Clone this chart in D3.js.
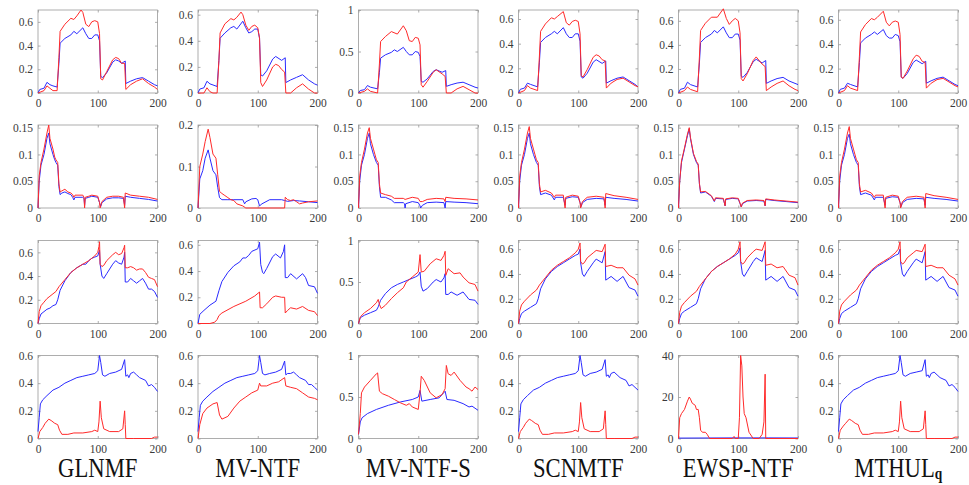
<!DOCTYPE html>
<html>
<head>
<meta charset="utf-8">
<script src="https://cdn.jsdelivr.net/npm/d3@7"></script>
<style>
  body { margin: 0; background: #fff; }
  text { font-family: "Liberation Serif", "Times New Roman", serif; }
</style>
</head>
<body>
<svg id="chart" width="969" height="485"></svg>
<script>
// method names (column titles)
const methods = ["GLNMF", "MV-NTF", "MV-NTF-S", "SCNMTF", "EWSP-NTF", "MTHUL"];
const xTicks = [0, 100, 200];

// y axis upper limit per row / column
const yMax = [
  [0.7, 0.636, 1, 0.673, 0.69, 0.68],
  [0.155, 0.2, 0.155, 0.155, 0.155, 0.155],
  [0.7, 0.633, 1, 0.67, 0.67, 0.67],
  [0.6, 0.6, 1, 0.6, 40, 0.6]
];
const yTicksRow = [
  [[0, 0.2, 0.4, 0.6], [0, 0.2, 0.4, 0.6], [0, 0.5, 1], [0, 0.2, 0.4, 0.6], [0, 0.2, 0.4, 0.6], [0, 0.2, 0.4, 0.6]],
  [[0, 0.05, 0.1, 0.15], [0, 0.1, 0.2], [0, 0.05, 0.1, 0.15], [0, 0.05, 0.1, 0.15], [0, 0.05, 0.1, 0.15], [0, 0.05, 0.1, 0.15]],
  [[0, 0.2, 0.4, 0.6], [0, 0.2, 0.4, 0.6], [0, 0.5, 1], [0, 0.2, 0.4, 0.6], [0, 0.2, 0.4, 0.6], [0, 0.2, 0.4, 0.6]],
  [[0, 0.2, 0.4, 0.6], [0, 0.2, 0.4, 0.6], [0, 0.5, 1], [0, 0.2, 0.4, 0.6], [0, 20, 40], [0, 0.2, 0.4, 0.6]]
];

// ---- row 1 ----
const glnmfB1 = [[0,0],[3,0.03],[10,0.04],[15,0.09],[20,0.07],[25,0.06],[32,0.05],[35,0.25],[37,0.42],[45,0.46],[55,0.49],[60,0.52],[65,0.5],[75,0.55],[80,0.5],[85,0.46],[90,0.46],[95,0.49],[100,0.49],[103,0.44],[105,0.14],[108,0.13],[115,0.17],[125,0.26],[130,0.28],[135,0.27],[140,0.25],[146,0.27],[147,0.08],[155,0.1],[165,0.12],[175,0.13],[185,0.1],[195,0.07],[200,0.06]];
const glnmfR1 = [[0,0],[5,0.01],[10,0.02],[15,0.06],[20,0.04],[25,0.02],[32,0.02],[35,0.3],[37,0.52],[45,0.58],[55,0.63],[60,0.62],[65,0.65],[72,0.7],[75,0.68],[80,0.58],[85,0.56],[90,0.6],[95,0.61],[100,0.6],[103,0.5],[105,0.12],[108,0.11],[115,0.18],[125,0.28],[130,0.3],[135,0.29],[140,0.25],[145,0.25],[147,0.03],[155,0.07],[165,0.1],[175,0.12],[185,0.08],[195,0.05],[200,0.03]];
const mvntfB1 = [[0,0],[3,0.03],[10,0.04],[15,0.09],[20,0.07],[32,0.05],[35,0.25],[37,0.42],[45,0.46],[55,0.5],[60,0.51],[65,0.49],[75,0.55],[80,0.5],[85,0.46],[90,0.47],[95,0.49],[100,0.49],[103,0.42],[105,0.14],[108,0.13],[115,0.17],[125,0.26],[130,0.28],[140,0.25],[146,0.27],[147,0.08],[155,0.1],[165,0.12],[175,0.14],[185,0.1],[195,0.07],[200,0.06]];
const mvntfR1 = [[0,0],[10,0],[15,0.04],[20,0.01],[25,0],[32,0],[35,0.25],[37,0.46],[45,0.53],[55,0.57],[60,0.56],[65,0.58],[72,0.62],[75,0.6],[80,0.52],[85,0.48],[90,0.51],[95,0.52],[100,0.5],[103,0.42],[105,0.08],[108,0.05],[115,0.1],[125,0.2],[130,0.22],[135,0.21],[140,0.18],[145,0.16],[147,0],[155,0],[165,0.04],[175,0.07],[185,0.03],[195,0],[200,0]];
const mvntfsB1 = [[0,0],[3,0.03],[10,0.04],[15,0.09],[20,0.07],[32,0.05],[35,0.25],[37,0.42],[45,0.46],[55,0.49],[60,0.52],[65,0.5],[75,0.55],[80,0.5],[85,0.46],[90,0.46],[95,0.5],[100,0.49],[103,0.44],[105,0.14],[108,0.13],[115,0.17],[125,0.26],[130,0.28],[140,0.25],[146,0.27],[147,0.08],[155,0.1],[165,0.12],[175,0.13],[185,0.1],[195,0.07],[200,0.06]];
const mvntfsR1 = [[0,0],[10,0.02],[15,0.05],[20,0.02],[32,0],[35,0.35],[37,0.62],[45,0.68],[55,0.74],[65,0.71],[75,0.81],[80,0.75],[85,0.63],[90,0.62],[95,0.67],[100,0.66],[103,0.58],[105,0.1],[108,0.07],[115,0.14],[125,0.25],[130,0.28],[140,0.23],[145,0.2],[147,0],[155,0],[165,0.05],[175,0.08],[185,0.04],[195,0],[200,0]];
const scnmtfB1 = [[0,0],[3,0.03],[10,0.04],[15,0.08],[20,0.07],[32,0.05],[35,0.25],[37,0.41],[45,0.45],[55,0.48],[60,0.5],[65,0.48],[75,0.53],[80,0.48],[85,0.45],[90,0.45],[95,0.48],[100,0.48],[103,0.42],[105,0.13],[108,0.12],[115,0.16],[125,0.25],[130,0.27],[140,0.24],[146,0.26],[147,0.08],[155,0.1],[165,0.12],[175,0.13],[185,0.1],[195,0.07],[200,0.05]];
const scnmtfR1 = [[0,0],[10,0.02],[15,0.06],[20,0.04],[32,0.02],[35,0.3],[37,0.5],[45,0.56],[55,0.61],[60,0.6],[65,0.62],[75,0.66],[80,0.57],[85,0.55],[90,0.58],[95,0.59],[100,0.58],[103,0.48],[105,0.14],[108,0.13],[115,0.19],[125,0.29],[130,0.31],[135,0.3],[140,0.27],[145,0.26],[147,0.04],[155,0.08],[165,0.11],[175,0.12],[185,0.09],[195,0.06],[200,0.05]];
const ewspB1 = [[0,0],[3,0.03],[10,0.04],[15,0.09],[20,0.07],[32,0.05],[35,0.25],[37,0.42],[45,0.46],[55,0.49],[60,0.52],[65,0.5],[75,0.55],[80,0.5],[85,0.46],[90,0.46],[95,0.49],[100,0.49],[103,0.44],[105,0.14],[108,0.13],[115,0.17],[125,0.26],[130,0.28],[140,0.25],[146,0.27],[147,0.08],[155,0.1],[165,0.12],[175,0.13],[185,0.1],[195,0.08],[200,0.07]];
const ewspR1 = [[0,0],[10,0.02],[15,0.05],[20,0.03],[32,0.01],[35,0.3],[37,0.52],[45,0.58],[55,0.63],[65,0.63],[75,0.7],[80,0.62],[85,0.57],[90,0.6],[95,0.62],[100,0.6],[103,0.5],[105,0.12],[108,0.1],[115,0.16],[125,0.27],[130,0.3],[140,0.24],[145,0.22],[147,0.02],[155,0.05],[165,0.08],[175,0.1],[185,0.06],[195,0.03],[200,0.02]];
const mthulB1 = [[0,0],[3,0.03],[10,0.04],[15,0.08],[20,0.07],[32,0.05],[35,0.25],[37,0.41],[45,0.45],[55,0.48],[60,0.5],[65,0.48],[75,0.52],[80,0.47],[85,0.45],[90,0.45],[95,0.48],[100,0.47],[103,0.42],[105,0.13],[108,0.12],[115,0.16],[125,0.25],[130,0.27],[140,0.24],[146,0.26],[147,0.08],[155,0.1],[165,0.12],[175,0.13],[185,0.1],[195,0.07],[200,0.06]];
const mthulR1 = [[0,0],[10,0.02],[15,0.06],[20,0.04],[32,0.02],[35,0.3],[37,0.5],[45,0.56],[55,0.61],[60,0.6],[65,0.62],[75,0.67],[80,0.58],[85,0.55],[90,0.58],[95,0.59],[100,0.58],[103,0.48],[105,0.13],[108,0.12],[115,0.18],[125,0.28],[130,0.31],[135,0.3],[140,0.26],[145,0.25],[147,0.04],[155,0.08],[165,0.11],[175,0.12],[185,0.09],[195,0.06],[200,0.05]];

// ---- row 2 ----
const glnmfB2 = [[0,0],[2,0.05],[5,0.08],[10,0.1],[15,0.13],[18,0.14],[20,0.12],[25,0.1],[28,0.09],[30,0.085],[33,0.08],[35,0.04],[37,0.025],[40,0.028],[45,0.03],[50,0.027],[55,0.025],[58,0.02],[60,0.015],[62,0.02],[75,0.02],[77,0.018],[78,0.005],[79,0.018],[85,0.02],[90,0.022],[100,0.02],[103,0.01],[105,0.003],[107,0.01],[115,0.017],[125,0.019],[135,0.019],[143,0.018],[145,0.005],[146,0.022],[155,0.02],[170,0.018],[185,0.016],[200,0.013]];
const glnmfR2 = [[0,0],[2,0.06],[5,0.085],[10,0.11],[15,0.14],[18,0.155],[20,0.13],[25,0.11],[28,0.095],[30,0.09],[33,0.085],[35,0.045],[37,0.03],[40,0.032],[45,0.035],[50,0.03],[55,0.028],[58,0.025],[60,0.02],[62,0.024],[75,0.024],[77,0.02],[78,0],[79,0.02],[85,0.022],[90,0.024],[100,0.022],[103,0.01],[104,0],[107,0.012],[115,0.02],[125,0.022],[135,0.022],[143,0.02],[145,0],[146,0.028],[155,0.024],[170,0.022],[185,0.02],[200,0.016]];
const mvntfB2 = [[0,0],[3,0.07],[8,0.09],[12,0.12],[17,0.14],[20,0.12],[25,0.09],[30,0.08],[33,0.05],[36,0.025],[40,0.02],[50,0.02],[60,0.02],[75,0.02],[78,0.01],[80,0.015],[90,0.022],[97,0.023],[100,0.02],[103,0.005],[107,0.01],[120,0.02],[140,0.02],[145,0.018],[150,0.016],[160,0.018],[170,0.017],[185,0.015],[200,0.013]];
const mvntfR2 = [[0,0],[3,0.1],[8,0.13],[12,0.16],[17,0.19],[20,0.17],[25,0.13],[30,0.12],[33,0.08],[36,0.04],[40,0.035],[45,0.03],[50,0.025],[55,0.02],[60,0.018],[65,0.01],[75,0.005],[80,0],[145,0],[146,0.026],[150,0.02],[155,0.018],[160,0.02],[165,0.015],[170,0.01],[175,0.012],[185,0.015],[200,0.017]];
const mvntfsB2 = [[0,0],[2,0.05],[5,0.08],[10,0.1],[15,0.13],[18,0.14],[20,0.12],[25,0.1],[30,0.085],[33,0.08],[35,0.04],[37,0.02],[45,0.02],[55,0.015],[60,0.01],[75,0.01],[77,0.008],[78,0],[79,0.008],[90,0.012],[100,0.01],[103,0.004],[104,0],[107,0.005],[115,0.01],[130,0.011],[143,0.01],[145,0],[146,0.012],[160,0.011],[180,0.01],[200,0.008]];
const mvntfsR2 = [[0,0],[2,0.06],[5,0.085],[10,0.11],[15,0.14],[18,0.15],[20,0.13],[25,0.11],[30,0.09],[33,0.085],[35,0.045],[37,0.028],[45,0.025],[55,0.022],[60,0.018],[75,0.018],[78,0.016],[90,0.02],[100,0.018],[103,0.012],[107,0.012],[115,0.016],[130,0.018],[143,0.017],[145,0.012],[146,0.02],[160,0.018],[180,0.017],[200,0.015]];
const scnmtfB2 = [[0,0],[2,0.05],[5,0.08],[10,0.1],[15,0.13],[18,0.14],[20,0.12],[25,0.1],[30,0.085],[33,0.08],[35,0.04],[37,0.025],[45,0.028],[55,0.024],[60,0.015],[62,0.02],[75,0.02],[78,0.005],[79,0.018],[90,0.021],[100,0.02],[103,0.01],[105,0.003],[107,0.01],[115,0.016],[130,0.018],[143,0.017],[145,0.005],[146,0.02],[160,0.018],[180,0.016],[200,0.013]];
const scnmtfR2 = [[0,0],[2,0.06],[5,0.085],[10,0.11],[15,0.14],[18,0.152],[20,0.13],[25,0.11],[30,0.09],[33,0.085],[35,0.045],[37,0.03],[45,0.033],[55,0.028],[60,0.02],[62,0.024],[75,0.024],[78,0],[79,0.02],[90,0.024],[100,0.022],[103,0.01],[104,0],[107,0.012],[115,0.02],[130,0.022],[143,0.02],[145,0],[146,0.027],[160,0.023],[180,0.02],[200,0.016]];
const ewspB2 = [[0,0],[2,0.05],[5,0.085],[10,0.11],[15,0.135],[18,0.148],[20,0.13],[25,0.1],[30,0.085],[33,0.08],[35,0.045],[37,0.028],[45,0.03],[55,0.022],[60,0.012],[62,0.018],[75,0.017],[78,0.004],[79,0.016],[90,0.018],[100,0.017],[103,0.008],[105,0.002],[107,0.008],[115,0.013],[130,0.014],[143,0.013],[145,0.004],[146,0.016],[160,0.014],[180,0.012],[200,0.01]];
const ewspR2 = [[0,0],[2,0.05],[5,0.088],[10,0.112],[15,0.138],[18,0.15],[20,0.132],[25,0.102],[30,0.087],[33,0.082],[35,0.046],[37,0.03],[45,0.031],[55,0.023],[60,0.013],[62,0.019],[75,0.018],[78,0.004],[79,0.017],[90,0.019],[100,0.018],[103,0.009],[105,0.002],[107,0.009],[115,0.014],[130,0.015],[143,0.014],[145,0.004],[146,0.017],[160,0.015],[180,0.013],[200,0.011]];
const mthulB2 = [[0,0],[2,0.05],[5,0.08],[10,0.1],[15,0.13],[18,0.138],[20,0.12],[25,0.1],[30,0.085],[33,0.08],[35,0.04],[37,0.025],[45,0.028],[55,0.024],[60,0.015],[62,0.02],[75,0.02],[78,0.005],[79,0.018],[90,0.021],[100,0.02],[103,0.01],[105,0.003],[107,0.01],[115,0.016],[130,0.018],[143,0.017],[145,0.005],[146,0.02],[160,0.018],[180,0.016],[200,0.013]];
const mthulR2 = [[0,0],[2,0.06],[5,0.085],[10,0.11],[15,0.14],[18,0.152],[20,0.13],[25,0.11],[30,0.09],[33,0.085],[35,0.045],[37,0.03],[45,0.033],[55,0.028],[60,0.02],[62,0.024],[75,0.024],[78,0],[79,0.02],[90,0.024],[100,0.022],[103,0.01],[104,0],[107,0.012],[115,0.02],[130,0.022],[143,0.02],[145,0],[146,0.027],[160,0.023],[180,0.02],[200,0.016]];

// ---- row 3 ----
const glnmfB3 = [[0,0],[2,0.04],[5,0.08],[10,0.1],[15,0.12],[20,0.13],[25,0.15],[30,0.16],[33,0.2],[37,0.28],[45,0.36],[55,0.43],[65,0.47],[75,0.5],[80,0.5],[85,0.53],[90,0.55],[95,0.56],[100,0.57],[103,0.62],[104,0.5],[107,0.4],[110,0.38],[115,0.42],[125,0.5],[130,0.53],[135,0.51],[140,0.5],[144,0.56],[145,0.6],[146,0.35],[150,0.35],[155,0.38],[160,0.36],[165,0.34],[170,0.36],[175,0.38],[180,0.34],[185,0.29],[190,0.29],[195,0.27],[200,0.22]];
const glnmfR3 = [[0,0],[2,0.1],[5,0.15],[10,0.18],[15,0.21],[20,0.23],[25,0.25],[30,0.27],[35,0.31],[45,0.37],[55,0.43],[65,0.47],[75,0.5],[85,0.53],[90,0.55],[95,0.57],[100,0.6],[102,0.65],[103,0.69],[104,0.5],[107,0.48],[110,0.49],[115,0.53],[125,0.58],[130,0.6],[135,0.58],[140,0.59],[144,0.64],[145,0.66],[146,0.47],[150,0.47],[155,0.48],[160,0.47],[165,0.45],[170,0.46],[175,0.46],[180,0.43],[185,0.39],[190,0.38],[195,0.37],[200,0.31]];
const mvntfB3 = [[0,0],[3,0.07],[10,0.1],[20,0.14],[30,0.17],[35,0.25],[40,0.32],[50,0.39],[60,0.44],[70,0.47],[75,0.5],[80,0.5],[85,0.52],[90,0.55],[100,0.57],[103,0.62],[105,0.45],[108,0.39],[110,0.38],[115,0.42],[125,0.51],[130,0.53],[138,0.5],[143,0.55],[145,0.6],[146,0.35],[150,0.35],[155,0.38],[165,0.34],[175,0.38],[180,0.35],[185,0.29],[195,0.28],[200,0.23]];
const mvntfR3 = [[0,0],[20,0],[28,0.01],[32,0.03],[35,0.06],[40,0.08],[60,0.13],[80,0.17],[95,0.21],[103,0.24],[104,0.12],[108,0.12],[115,0.15],[125,0.2],[130,0.21],[140,0.2],[145,0.2],[146,0.08],[150,0.1],[155,0.12],[165,0.11],[175,0.13],[185,0.1],[195,0.09],[200,0.06]];
const mvntfsB3 = [[0,0],[3,0.07],[10,0.1],[20,0.13],[30,0.16],[33,0.2],[37,0.28],[45,0.36],[55,0.43],[65,0.47],[75,0.5],[85,0.53],[95,0.56],[100,0.58],[103,0.62],[105,0.45],[108,0.39],[115,0.42],[125,0.5],[130,0.53],[138,0.5],[143,0.55],[145,0.6],[146,0.35],[150,0.35],[155,0.38],[165,0.34],[175,0.38],[185,0.29],[195,0.28],[200,0.23]];
const mvntfsR3 = [[0,0],[3,0.08],[10,0.13],[20,0.18],[30,0.25],[33,0.29],[35,0.23],[38,0.18],[45,0.22],[55,0.3],[65,0.37],[75,0.43],[80,0.5],[90,0.56],[100,0.62],[103,0.83],[105,0.62],[110,0.63],[120,0.72],[130,0.78],[138,0.76],[143,0.82],[145,0.87],[146,0.58],[150,0.66],[160,0.6],[170,0.61],[175,0.56],[185,0.49],[195,0.47],[200,0.39]];
const scnmtfB3 = [[0,0],[2,0.04],[5,0.08],[10,0.1],[20,0.13],[30,0.16],[33,0.2],[37,0.28],[45,0.36],[55,0.42],[65,0.46],[75,0.49],[85,0.52],[95,0.55],[100,0.56],[103,0.6],[104,0.49],[107,0.4],[110,0.38],[115,0.42],[125,0.49],[130,0.52],[140,0.49],[145,0.58],[146,0.35],[155,0.38],[165,0.34],[175,0.38],[185,0.29],[195,0.27],[200,0.22]];
const scnmtfR3 = [[0,0],[2,0.1],[5,0.15],[10,0.18],[20,0.23],[30,0.27],[35,0.31],[45,0.37],[55,0.43],[65,0.47],[75,0.5],[85,0.53],[95,0.57],[100,0.6],[103,0.65],[104,0.5],[107,0.48],[110,0.49],[115,0.53],[125,0.57],[130,0.59],[140,0.58],[145,0.64],[146,0.46],[155,0.47],[165,0.45],[175,0.45],[185,0.39],[195,0.36],[200,0.31]];
const ewspB3 = [[0,0],[2,0.04],[5,0.08],[10,0.1],[20,0.13],[30,0.16],[33,0.2],[37,0.28],[45,0.36],[55,0.42],[65,0.46],[75,0.49],[85,0.52],[95,0.55],[100,0.57],[103,0.61],[104,0.5],[107,0.4],[110,0.38],[115,0.42],[125,0.5],[130,0.53],[140,0.5],[145,0.59],[146,0.35],[155,0.38],[165,0.34],[175,0.38],[185,0.29],[195,0.27],[200,0.22]];
const ewspR3 = [[0,0],[2,0.09],[5,0.14],[10,0.17],[20,0.22],[30,0.26],[35,0.3],[45,0.36],[55,0.42],[65,0.46],[75,0.49],[85,0.52],[95,0.56],[100,0.6],[103,0.66],[104,0.5],[107,0.48],[110,0.49],[115,0.53],[125,0.58],[130,0.6],[140,0.59],[145,0.66],[146,0.47],[155,0.48],[165,0.45],[175,0.46],[185,0.39],[195,0.37],[200,0.31]];
const mthulB3 = [[0,0],[2,0.04],[5,0.08],[10,0.1],[20,0.13],[30,0.16],[33,0.2],[37,0.28],[45,0.36],[55,0.42],[65,0.46],[75,0.49],[85,0.52],[95,0.55],[100,0.56],[103,0.6],[104,0.49],[107,0.4],[110,0.38],[115,0.42],[125,0.49],[130,0.52],[140,0.49],[145,0.58],[146,0.35],[155,0.38],[165,0.34],[175,0.38],[185,0.29],[195,0.27],[200,0.22]];
const mthulR3 = [[0,0],[2,0.1],[5,0.15],[10,0.18],[20,0.23],[30,0.27],[35,0.31],[45,0.37],[55,0.43],[65,0.47],[75,0.5],[85,0.53],[95,0.57],[100,0.6],[103,0.66],[104,0.5],[107,0.48],[110,0.49],[115,0.53],[125,0.57],[130,0.59],[140,0.58],[145,0.64],[146,0.46],[155,0.47],[165,0.45],[175,0.45],[185,0.39],[195,0.36],[200,0.31]];

// ---- row 4 ----
const glnmfB4 = [[0,0.05],[2,0.15],[4,0.25],[8,0.28],[15,0.31],[25,0.35],[35,0.37],[45,0.4],[55,0.42],[65,0.44],[75,0.45],[85,0.46],[95,0.47],[100,0.49],[103,0.6],[105,0.55],[108,0.46],[112,0.45],[120,0.47],[130,0.48],[140,0.5],[145,0.57],[147,0.45],[150,0.46],[152,0.44],[155,0.47],[160,0.48],[165,0.46],[170,0.44],[180,0.42],[185,0.38],[190,0.39],[195,0.37],[200,0.34]];
const glnmfR4 = [[0,0],[3,0.05],[8,0.08],[12,0.11],[18,0.14],[22,0.13],[28,0.11],[33,0.1],[36,0.06],[40,0.03],[50,0.03],[60,0.04],[75,0.04],[90,0.05],[95,0.06],[100,0.05],[102,0.12],[104,0.27],[106,0.15],[110,0.07],[120,0.05],[135,0.05],[142,0.07],[145,0.2],[146,0.1],[147,0],[160,0],[190,0],[195,0.01],[200,0.01]];
const mvntfB4 = [[0,0.05],[2,0.15],[4,0.24],[8,0.27],[15,0.3],[25,0.34],[35,0.37],[45,0.4],[55,0.42],[65,0.44],[75,0.45],[85,0.46],[95,0.47],[100,0.49],[103,0.6],[105,0.55],[108,0.47],[112,0.46],[120,0.47],[130,0.48],[140,0.5],[145,0.56],[147,0.46],[150,0.47],[155,0.47],[160,0.48],[165,0.46],[170,0.44],[180,0.42],[185,0.39],[190,0.39],[195,0.37],[200,0.35]];
const mvntfR4 = [[0,0],[3,0.1],[8,0.18],[15,0.22],[25,0.25],[32,0.26],[36,0.17],[40,0.14],[50,0.16],[60,0.22],[70,0.27],[80,0.3],[90,0.33],[100,0.35],[103,0.4],[105,0.38],[115,0.38],[125,0.4],[135,0.41],[145,0.44],[147,0.38],[155,0.37],[165,0.36],[175,0.33],[185,0.3],[195,0.29],[200,0.28]];
const mvntfsB4 = [[0,0.05],[3,0.2],[6,0.25],[15,0.3],[30,0.35],[50,0.4],[70,0.44],[90,0.47],[100,0.5],[103,0.58],[106,0.45],[120,0.47],[135,0.49],[145,0.57],[148,0.47],[160,0.46],[175,0.42],[185,0.38],[190,0.39],[200,0.34]];
const mvntfsR4 = [[0,0.05],[3,0.3],[5,0.55],[10,0.62],[20,0.7],[30,0.78],[32,0.79],[35,0.57],[40,0.54],[50,0.51],[60,0.47],[70,0.43],[80,0.4],[85,0.42],[90,0.38],[100,0.35],[103,0.55],[105,0.75],[110,0.7],[120,0.55],[130,0.49],[140,0.53],[145,0.6],[147,0.88],[150,0.78],[155,0.76],[160,0.8],[170,0.7],[180,0.62],[185,0.6],[190,0.57],[195,0.62],[200,0.59]];
const scnmtfB4 = [[0,0.05],[2,0.15],[4,0.25],[8,0.28],[15,0.31],[25,0.35],[35,0.37],[45,0.4],[55,0.42],[65,0.44],[75,0.45],[85,0.46],[95,0.47],[100,0.49],[103,0.6],[105,0.55],[108,0.46],[112,0.45],[120,0.47],[130,0.48],[140,0.5],[145,0.57],[147,0.45],[150,0.46],[152,0.44],[155,0.47],[160,0.48],[165,0.46],[170,0.44],[180,0.42],[185,0.38],[190,0.39],[195,0.37],[200,0.35]];
const scnmtfR4 = [[0,0],[3,0.05],[8,0.08],[12,0.11],[18,0.14],[22,0.13],[28,0.11],[33,0.1],[36,0.06],[40,0.03],[50,0.03],[60,0.04],[75,0.04],[90,0.05],[95,0.06],[100,0.05],[102,0.12],[104,0.26],[106,0.15],[110,0.07],[120,0.05],[135,0.05],[142,0.07],[145,0.2],[146,0.1],[147,0],[160,0],[190,0],[195,0.01],[200,0.01]];
const ewspB4 = [[0,0.2],[50,0.25],[100,0.3],[150,0.3],[200,0.25]];
const ewspR4 = [[0,0],[2,10],[5,12],[10,14],[15,18],[18,20],[20,19],[23,17],[28,16],[30,14],[33,14],[35,10],[37,4],[40,3],[45,3],[48,2],[52,0],[90,0],[93,1],[95,0],[100,0],[102,10],[104,40],[106,35],[108,20],[110,12],[113,10],[118,3],[125,0],[135,0],[140,2],[143,8],[145,31],[146,0],[200,0]];
const mthulB4 = [[0,0.05],[2,0.15],[4,0.25],[8,0.28],[15,0.31],[25,0.35],[35,0.37],[45,0.4],[55,0.42],[65,0.44],[75,0.45],[85,0.46],[95,0.47],[100,0.49],[103,0.6],[105,0.55],[108,0.46],[112,0.45],[120,0.47],[130,0.48],[140,0.49],[145,0.57],[147,0.45],[150,0.46],[152,0.44],[155,0.47],[160,0.48],[165,0.46],[170,0.44],[180,0.42],[185,0.38],[190,0.39],[195,0.37],[200,0.34]];
const mthulR4 = [[0,0],[3,0.06],[8,0.09],[12,0.11],[18,0.14],[22,0.13],[28,0.11],[33,0.1],[36,0.06],[40,0.03],[50,0.03],[60,0.04],[75,0.04],[90,0.05],[95,0.06],[100,0.05],[102,0.12],[104,0.27],[106,0.15],[110,0.07],[120,0.05],[135,0.05],[142,0.07],[145,0.2],[146,0.1],[147,0],[160,0],[190,0],[195,0.01],[200,0.01]];

// grid of [blue, red] per row and column
const series = [
  [[glnmfB1, glnmfR1], [mvntfB1, mvntfR1], [mvntfsB1, mvntfsR1], [scnmtfB1, scnmtfR1], [ewspB1, ewspR1], [mthulB1, mthulR1]],
  [[glnmfB2, glnmfR2], [mvntfB2, mvntfR2], [mvntfsB2, mvntfsR2], [scnmtfB2, scnmtfR2], [ewspB2, ewspR2], [mthulB2, mthulR2]],
  [[glnmfB3, glnmfR3], [mvntfB3, mvntfR3], [mvntfsB3, mvntfsR3], [scnmtfB3, scnmtfR3], [ewspB3, ewspR3], [mthulB3, mthulR3]],
  [[glnmfB4, glnmfR4], [mvntfB4, mvntfR4], [mvntfsB4, mvntfsR4], [scnmtfB4, scnmtfR4], [ewspB4, ewspR4], [mthulB4, mthulR4]]
];

const svg = d3.select("#chart");
const colLeft = [38, 198, 358.5, 518.5, 678.5, 838.5];
const rowTop = [10, 125, 240.5, 355.5];
const pw = 119.5, ph = 83;
const colors = ["#2a2aff", "#ff2a2a"];

series.forEach((row, r) => {
  row.forEach((pair, c) => {
    const g = svg.append("g").attr("transform", `translate(${colLeft[c]},${rowTop[r]})`);
    const x = d3.scaleLinear().domain([0, 200]).range([0, pw]);
    const y = d3.scaleLinear().domain([0, yMax[r][c]]).range([ph, 0]);

    g.append("rect")
      .attr("width", pw).attr("height", ph)
      .attr("fill", "none").attr("stroke", "#999").attr("stroke-width", 0.8);

    const fmt = d => String(d);
    const xa = g.append("g").attr("transform", `translate(0,${ph})`)
      .call(d3.axisBottom(x).tickValues(xTicks).tickSizeInner(-2.5).tickSizeOuter(0).tickPadding(6).tickFormat(fmt));
    const ya = g.append("g")
      .call(d3.axisLeft(y).tickValues(yTicksRow[r][c]).tickSizeInner(-2.5).tickSizeOuter(0).tickPadding(5).tickFormat(fmt));
    const xt = g.append("g").call(d3.axisTop(x).tickValues(xTicks).tickSizeInner(-2.5).tickSizeOuter(0).tickFormat(""));
    const yr = g.append("g").attr("transform", `translate(${pw},0)`)
      .call(d3.axisRight(y).tickValues(yTicksRow[r][c]).tickSizeInner(-2.5).tickSizeOuter(0).tickFormat(""));
    [xa, ya, xt, yr].forEach(a => {
      a.select(".domain").remove();
      a.selectAll(".tick line").attr("stroke", "#999").attr("stroke-width", 0.8);
      a.selectAll(".tick text").attr("fill", "#3a3a3a").style("font-size", "11.5px")
        .style("font-family", '"Liberation Serif", serif');
    });

    const line = d3.line().x(d => x(d[0])).y(d => y(d[1]));
    pair.forEach((s, i) => {
      g.append("path").datum(s)
        .attr("d", line)
        .attr("fill", "none")
        .attr("stroke", colors[i])
        .attr("stroke-width", 1)
        .attr("stroke-linejoin", "round");
    });
  });
});

// column titles
methods.forEach((m, c) => {
  const t = svg.append("text")
    .attr("transform", `translate(${colLeft[c] + pw / 2},477) scale(0.84,1)`)
    .attr("text-anchor", "middle")
    .attr("fill", "#111")
    .style("font-size", "27px")
    .text(m);
  if (m === "MTHUL") {
    t.append("tspan").attr("font-weight", "bold").style("font-size", "16px")
      .attr("dy", 2).text("q");
  }
});
</script>
</body>
</html>
